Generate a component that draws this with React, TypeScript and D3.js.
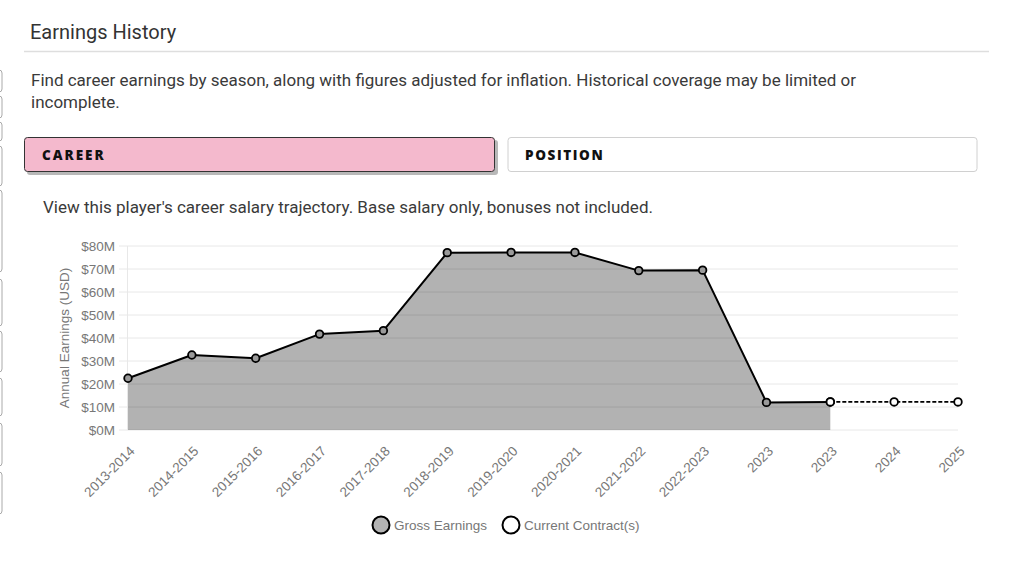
import React from "react";
import * as d3 from "d3";

const seasons = [
  "2013-2014", "2014-2015", "2015-2016", "2016-2017", "2017-2018",
  "2018-2019", "2019-2020", "2020-2021", "2021-2022", "2022-2023",
  "2023", "2023", "2024", "2025",
];
// Gross earnings in $M (index 0..11)
const grossEarnings = [22.5, 32.6, 31.2, 41.7, 43.2, 77.1, 77.2, 77.2, 69.3, 69.5, 12.0, 12.2];
// Current contract in $M (index 11..13)
const contractStart = 11;
const currentContract = [12.2, 12.2, 12.2];
const yTicks = [0, 10, 20, 30, 40, 50, 60, 70, 80];

const sideBoxes = [
  [70, 92], [96, 118], [122, 141], [146, 186], [190, 272], [279, 326],
  [331, 372], [378, 416], [423, 466], [472, 514],
];

export default function App() {
  const x = d3.scaleLinear().domain([0, seasons.length - 1]).range([128, 958]);
  const y = d3.scaleLinear().domain([0, 80]).range([430, 246]);

  const grossPts = grossEarnings.map((v, i) => [x(i), y(v)] as [number, number]);
  const contractPts = currentContract.map((v, i) => [x(i + contractStart), y(v)] as [number, number]);

  const area = d3
    .area<[number, number]>()
    .x((d) => d[0])
    .y0(y(0))
    .y1((d) => d[1]);
  const line = d3.line<[number, number]>().x((d) => d[0]).y((d) => d[1]);

  const axisFont = "'Liberation Sans', Arial, sans-serif";
  const bodyFont = "Roboto, 'Noto Sans', sans-serif";
  const axisSize = 13.5;

  return (
    <svg
      width={1024}
      height={565}
      style={{ position: "absolute", left: 0, top: 0, background: "#fff" }}
    >
      {sideBoxes.map(([a, b], i) => (
        <rect key={i} x={-8} y={a} width={10} height={b - a} rx={3} fill="#fff" stroke="#aaa" strokeWidth={1} />
      ))}

      <text x={30} y={39} fontFamily={bodyFont} fontSize={20} fill="#333">
        Earnings History
      </text>
      <line x1={24} x2={989} y1={51.5} y2={51.5} stroke="#dedede" strokeWidth={1.5} />

      <text x={31} y={86} fontFamily={bodyFont} fontSize={17} fill="#3a3a3a">
        Find career earnings by season, along with figures adjusted for inflation. Historical coverage may be limited or
      </text>
      <text x={31} y={108} fontFamily={bodyFont} fontSize={17} fill="#3a3a3a">
        incomplete.
      </text>

      {/* Buttons */}
      <rect x={27} y={140} width={471} height={35} rx={3} fill="#888" opacity={0.6} />
      <rect x={24.5} y={137.5} width={470} height={34} rx={3} fill="#f4b9cd" stroke="#333" strokeWidth={1} />
      <text x={42} y={159.5} fontFamily="'Open Sans', sans-serif" fontWeight={800} fontSize={13.5} letterSpacing={2} fill="#111">
        CAREER
      </text>
      <rect x={508} y={137.5} width={469} height={34} rx={3} fill="#fff" stroke="#d0d0d0" strokeWidth={1} />
      <text x={525} y={159.5} fontFamily="'Open Sans', sans-serif" fontWeight={800} fontSize={13.5} letterSpacing={1.6} fill="#111">
        POSITION
      </text>

      <text x={43} y={213} fontFamily={bodyFont} fontSize={17} fill="#3a3a3a">
        View this player's career salary trajectory. Base salary only, bonuses not included.
      </text>

      {/* Grid */}
      {yTicks.map((t) => (
        <g key={t}>
          <line x1={119} x2={958} y1={y(t)} y2={y(t)} stroke="#e8e8e8" strokeWidth={1} />
          <text
            x={115}
            y={y(t) + 5}
            textAnchor="end"
            fontFamily={axisFont}
            fontSize={axisSize}
            fill="#777"
          >
            {`$${t}M`}
          </text>
        </g>
      ))}
      <line x1={127.5} x2={127.5} y1={y(80)} y2={y(0)} stroke="#e8e8e8" strokeWidth={1} />

      <text
        transform={`translate(69, ${(y(0) + y(80)) / 2}) rotate(-90)`}
        textAnchor="middle"
        fontFamily={axisFont}
        fontSize={axisSize}
        fill="#777"
      >
        Annual Earnings (USD)
      </text>

      {/* Area */}
      <path d={area(grossPts) || ""} fill="rgba(0,0,0,0.3)" />
      <path d={line(grossPts) || ""} fill="none" stroke="#000" strokeWidth={2} strokeLinejoin="round" />
      <path d={line(contractPts) || ""} fill="none" stroke="#000" strokeWidth={1.8} strokeDasharray="4,2" />

      {grossPts.map((p, i) => (
        <circle key={i} cx={p[0]} cy={p[1]} r={3.8} fill="#9a9a9a" stroke="#000" strokeWidth={1.8} />
      ))}
      {contractPts.map((p, i) => (
        <circle key={i} cx={p[0]} cy={p[1]} r={3.8} fill="#fff" stroke="#000" strokeWidth={1.8} />
      ))}

      {/* X labels */}
      {seasons.map((s, i) => (
        <text
          key={i}
          transform={`translate(${x(i) + 7.5}, ${452}) rotate(-45)`}
          textAnchor="end"
          fontFamily={axisFont}
          fontSize={axisSize}
          fill="#777"
        >
          {s}
        </text>
      ))}

      {/* Legend */}
      <circle cx={381} cy={525} r={8.5} fill="#b3b3b3" stroke="#000" strokeWidth={2} />
      <text x={394} y={530} fontFamily={axisFont} fontSize={axisSize} fill="#777">
        Gross Earnings
      </text>
      <circle cx={511} cy={525} r={8.5} fill="#fff" stroke="#000" strokeWidth={2} />
      <text x={524} y={530} fontFamily={axisFont} fontSize={axisSize} fill="#777">
        Current Contract(s)
      </text>
    </svg>
  );
}
